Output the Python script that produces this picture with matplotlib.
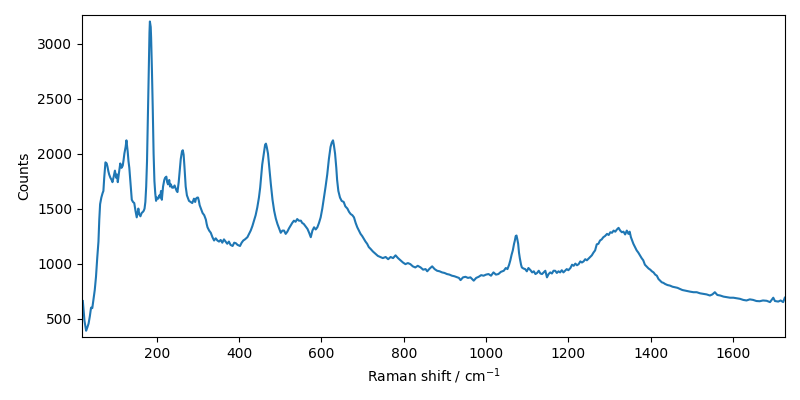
import numpy as np
import matplotlib
matplotlib.use('Agg')
import matplotlib.pyplot as plt

# Raman shift (cm-1) and counts
shift = [20, 24, 28, 31, 34, 37, 40, 43, 46, 49, 52, 55, 58, 60, 62, 65, 68, 70, 72, 75,
         78, 80, 82, 84, 87, 90, 92, 95, 98, 101, 103, 105, 108, 111, 114, 117, 119, 121, 124, 126,
         129, 131, 133, 136, 139, 142, 145, 148, 151, 153, 155, 157, 160, 163, 166, 168, 170, 172, 174, 176,
         178, 180, 182, 183, 185, 186, 188, 190, 192, 194, 196, 198, 200, 203, 206, 208, 210, 212, 215, 218,
         220, 223, 225, 227, 230, 232, 234, 237, 240, 243, 246, 248, 250, 253, 255, 258, 261, 263, 265, 267,
         270, 273, 276, 278, 282, 286, 290, 293, 295, 298, 300, 302, 304, 307, 311, 315, 319, 321, 323, 327,
         331, 335, 339, 343, 347, 351, 355, 359, 363, 367, 371, 375, 379, 384, 388, 392, 396, 402, 406, 410,
         414, 420, 424, 428, 432, 436, 440, 444, 448, 451, 454, 456, 460, 463, 465, 467, 470, 473, 477, 481,
         485, 489, 493, 497, 501, 505, 509, 513, 517, 521, 525, 529, 533, 537, 541, 545, 550, 553, 557, 561,
         566, 570, 574, 578, 582, 586, 590, 594, 598, 602, 606, 610, 614, 618, 622, 625, 628, 630, 633, 636,
         638, 641, 645, 649, 654, 658, 663, 667, 671, 675, 679, 683, 687, 691, 695, 699, 703, 707, 711, 715,
         719, 725, 731, 737, 743, 749, 756, 762, 768, 774, 780, 786, 792, 798, 804, 810, 816, 822, 828, 834,
         841, 847, 853, 857, 863, 869, 875, 881, 887, 893, 899, 905, 911, 917, 923, 930, 934, 938, 944, 950,
         956, 962, 966, 970, 976, 982, 988, 994, 1000, 1006, 1012, 1018, 1024, 1030, 1036, 1043, 1048, 1052, 1056, 1059,
         1062, 1065, 1068, 1070, 1072, 1074, 1076, 1078, 1080, 1082, 1085, 1087, 1091, 1095, 1099, 1103, 1108, 1112, 1116, 1120,
         1124, 1128, 1132, 1136, 1140, 1144, 1148, 1152, 1156, 1160, 1164, 1168, 1172, 1176, 1180, 1184, 1188, 1192, 1196, 1200,
         1205, 1209, 1213, 1217, 1221, 1225, 1229, 1233, 1237, 1241, 1245, 1249, 1253, 1257, 1261, 1265, 1269, 1273, 1277, 1281,
         1285, 1289, 1294, 1298, 1302, 1306, 1310, 1314, 1318, 1322, 1326, 1330, 1334, 1338, 1342, 1346, 1349, 1352, 1355, 1358,
         1362, 1366, 1370, 1374, 1378, 1382, 1386, 1391, 1395, 1399, 1403, 1407, 1411, 1415, 1419, 1423, 1427, 1431, 1435, 1441,
         1447, 1453, 1459, 1465, 1471, 1477, 1483, 1489, 1496, 1504, 1512, 1520, 1528, 1536, 1544, 1550, 1556, 1562, 1569, 1577,
         1585, 1593, 1601, 1609, 1617, 1625, 1633, 1641, 1649, 1657, 1665, 1673, 1682, 1690, 1698, 1702, 1710, 1716, 1722, 1726]

counts = [660, 480, 390, 420, 455, 520, 600, 595, 680, 760, 880, 1050, 1200, 1400, 1540, 1600, 1640, 1660, 1780, 1920,
          1910, 1880, 1840, 1810, 1780, 1760, 1740, 1790, 1845, 1780, 1810, 1740, 1830, 1910, 1870, 1890, 1940, 2000, 2060, 2120,
          2020, 1930, 1870, 1720, 1580, 1560, 1550, 1480, 1420, 1460, 1500, 1450, 1430, 1460, 1470, 1480, 1500, 1560, 1700, 1930,
          2300, 2700, 3100, 3200, 3150, 3050, 2750, 2400, 2000, 1750, 1640, 1570, 1600, 1590, 1620, 1600, 1660, 1580, 1700, 1760,
          1780, 1790, 1740, 1720, 1760, 1700, 1720, 1690, 1690, 1710, 1680, 1660, 1650, 1740, 1820, 1950, 2020, 2030, 1990, 1880,
          1700, 1620, 1590, 1570, 1560, 1550, 1590, 1560, 1590, 1600, 1600, 1570, 1530, 1500, 1460, 1440, 1400, 1360, 1330, 1300,
          1280, 1240, 1210, 1230, 1210, 1200, 1215, 1190, 1220, 1200, 1180, 1200, 1170, 1160, 1190, 1185, 1170, 1160, 1190, 1210,
          1220, 1240, 1270, 1300, 1340, 1390, 1440, 1510, 1600, 1690, 1820, 1900, 2000, 2080, 2090, 2060, 2000, 1880, 1720, 1580,
          1480, 1410, 1360, 1320, 1280, 1300, 1300, 1270, 1290, 1320, 1345, 1370, 1390, 1380, 1405, 1390, 1390, 1370, 1360, 1340,
          1315, 1280, 1240, 1300, 1330, 1310, 1330, 1370, 1420, 1500, 1600, 1700, 1810, 1950, 2060, 2100, 2120, 2080, 2000, 1870,
          1760, 1660, 1600, 1570, 1560, 1520, 1500, 1470, 1450, 1440, 1420, 1370, 1330, 1300, 1270, 1250, 1225, 1200, 1180, 1150,
          1135, 1110, 1090, 1070, 1060, 1050, 1060, 1040, 1060, 1050, 1075, 1050, 1030, 1010, 995, 1005, 995, 975, 965, 980,
          965, 945, 950, 930, 955, 975, 950, 935, 930, 920, 915, 905, 900, 890, 885, 875, 870, 850, 875, 880,
          870, 875, 860, 845, 870, 880, 895, 890, 900, 905, 890, 920, 900, 905, 925, 935, 960, 950, 990, 1030,
          1080, 1120, 1180, 1210, 1250, 1255, 1220, 1180, 1100, 1050, 990, 965, 955, 950, 930, 960, 940, 920, 930, 905,
          915, 935, 910, 905, 920, 935, 875, 905, 920, 910, 935, 935, 915, 930, 920, 940, 920, 935, 950, 940,
          960, 990, 980, 1000, 985, 995, 1020, 1010, 1020, 1040, 1030, 1045, 1060, 1075, 1100, 1120, 1175, 1180, 1210, 1220,
          1240, 1250, 1270, 1260, 1285, 1280, 1300, 1290, 1310, 1325, 1300, 1285, 1290, 1265, 1300, 1270, 1290, 1240, 1210, 1180,
          1150, 1120, 1100, 1075, 1050, 1030, 990, 970, 955, 945, 930, 920, 900, 890, 860, 845, 830, 825, 815, 805,
          800, 790, 785, 780, 770, 760, 755, 750, 745, 740, 740, 730, 725, 720, 710, 720, 740, 715, 710, 700,
          695, 690, 690, 685, 680, 670, 665, 675, 670, 660, 658, 665, 662, 650, 690, 660, 655, 665, 650, 690]

fig, ax = plt.subplots(figsize=(8, 4), dpi=100)
ax.plot(shift, counts, '-', color='C0', linewidth=1.5)
ax.set_xlim(18, 1726)
ax.set_ylim(333, 3259)
ax.set_xlabel('Raman shift / cm$^{-1}$')
ax.set_ylabel('Counts')
fig.subplots_adjust(left=0.1025, right=0.981, top=0.9625, bottom=0.1575)
fig.savefig('out.png')
